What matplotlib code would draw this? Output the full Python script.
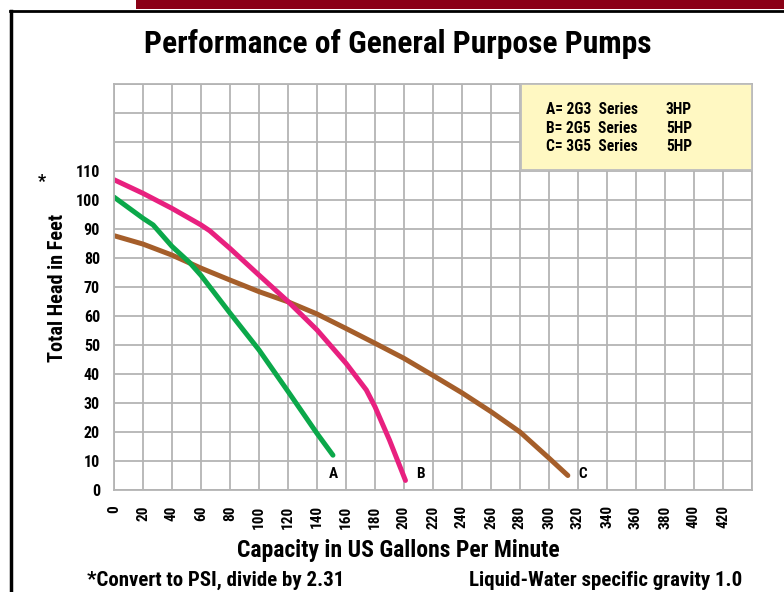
import matplotlib
matplotlib.use('Agg')
import matplotlib.pyplot as plt
from matplotlib.patches import Rectangle
from matplotlib.lines import Line2D

plt.rcParams['font.family'] = ['Roboto Condensed', 'DejaVu Sans']
plt.rcParams['font.stretch'] = 'condensed'
plt.rcParams['font.weight'] = 'bold'
plt.rcParams['axes.labelweight'] = 'bold'

# pump curves (GPM, feet of head)
gpm_a = [0, 20, 27, 40, 52, 60, 80, 100, 120, 140, 151]
head_a = [101, 93.7, 91.4, 84, 78.5, 74, 61, 48.3, 34, 19.5, 12]

gpm_b = [0, 20, 40, 60, 66, 80, 100, 120, 140, 160, 174, 180, 190, 201]
head_b = [107, 102.3, 97.1, 91.4, 89.4, 83.3, 74.1, 65, 55.2, 43.7, 34.5, 28.7, 17.2, 3.3]

gpm_c = [0, 20, 40, 60, 80, 100, 120, 140, 160, 180, 200, 220, 240, 260, 280, 300, 313]
head_c = [87.7, 84.8, 81, 76.5, 72.4, 68.4, 64.9, 60.7, 55.7, 50.6, 45.4, 39.5, 33.5, 27, 20, 11, 5]

curve_labels = ['A', 'B', 'C']
legend_models = ['A= 2G3  Series', 'B= 2G5  Series', 'C= 3G5  Series']
legend_hp = ['3HP', '5HP', '5HP']

x_ticks = list(range(0, 460, 20))
y_ticks = list(range(0, 150, 10))

green = '#0BA84A'
pink = '#E8207F'
brown = '#A55E2A'

fig = plt.figure(figsize=(7.84, 5.92), dpi=100)
ax = fig.add_axes([114/784, 1-490/592, 638/784, 406/592])

ax.set_xlim(0, 440)
ax.set_ylim(0, 140)
ax.set_xticks(x_ticks)
ax.set_xticklabels([str(v) if v <= 420 else '' for v in x_ticks], rotation=90, fontsize=11)
ax.set_yticks(y_ticks)
ax.set_yticklabels([str(v) if v <= 110 else '' for v in y_ticks], fontsize=11.5)
ax.tick_params(axis='both', length=0)
ax.tick_params(axis='y', pad=10)
ax.tick_params(axis='x', pad=11)
ax.grid(True, color='#b4b4b4', lw=1.3)
ax.set_axisbelow(True)
for s in ax.spines.values():
    s.set_color('#b4b4b4')
    s.set_linewidth(1.3)

lw = 3.6
ax.plot(gpm_c, head_c, color=brown, lw=lw, solid_capstyle='round', solid_joinstyle='round')
ax.plot(gpm_a, head_a, color=green, lw=lw, solid_capstyle='round', solid_joinstyle='round')
ax.plot(gpm_b, head_b, color=pink, lw=lw, solid_capstyle='round', solid_joinstyle='round')

# curve letters next to the curve ends
for lab, xs, ys in zip(curve_labels, [gpm_a, gpm_b, gpm_c], [head_a, head_b, head_c]):
    ax.text(xs[-1] + (0 if lab == 'A' else 10), 5.5, lab, fontsize=11, ha='center', va='center')

# legend box
ax.add_patch(Rectangle((0.638, 0.788), 0.362, 0.212, transform=ax.transAxes,
                       facecolor='#FFF8C2', edgecolor='#bdbdbd', lw=1.3, zorder=3))
for i, (m, hp) in enumerate(zip(legend_models, legend_hp)):
    yy = 0.936 - i * 0.045
    ax.text(0.677, yy, m, transform=ax.transAxes, fontsize=11.2, va='center', zorder=4)
    ax.text(0.865, yy, hp, transform=ax.transAxes, fontsize=11.2, va='center', zorder=4)

ax.set_xlabel('Capacity in US Gallons Per Minute', fontsize=17, va='center')
ax.xaxis.set_label_coords(0.445, -0.148)
ax.set_ylabel('Total Head in Feet', fontsize=14.6, va='center')
ax.yaxis.set_label_coords(-0.089, 0.4975)

fig.text(398/784, 1-44/592, 'Performance of General Purpose Pumps', fontsize=22.7,
         ha='center', va='center')
fig.text(42/784, 1-182/592, '*', fontsize=13, ha='center', va='center')
fig.text(87/784, 1-580/592, '*Convert to PSI, divide by 2.31', fontsize=15,
         ha='left', va='center')
fig.text(742/784, 1-580/592, 'Liquid-Water specific gravity 1.0', fontsize=15,
         ha='right', va='center')

# page frame and top bar
fig.add_artist(Rectangle((136/784, 1-9/592), 1, 9/592, transform=fig.transFigure,
                         facecolor='#8A0016', edgecolor='none'))
fig.add_artist(Line2D([11/784, 11/784], [0, 1-11/592], transform=fig.transFigure,
                      color='black', lw=2.5))
fig.add_artist(Line2D([10/784, 1], [1-11/592, 1-11/592], transform=fig.transFigure,
                      color='black', lw=2))

fig.savefig('out.png', dpi=100)
